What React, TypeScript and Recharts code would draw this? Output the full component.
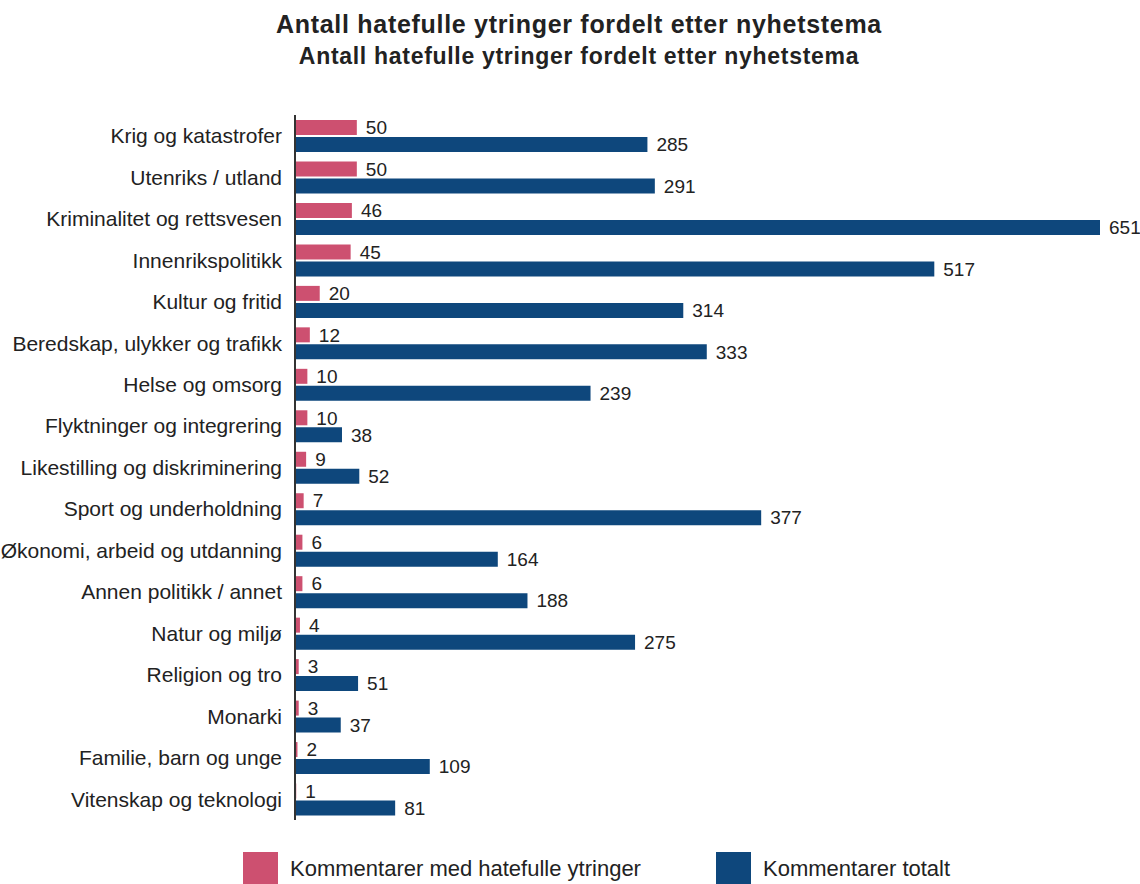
import { BarChart, Bar, XAxis, YAxis, LabelList } from "recharts";

const categories = [
    "Krig og katastrofer",
    "Utenriks / utland",
    "Kriminalitet og rettsvesen",
    "Innenrikspolitikk",
    "Kultur og fritid",
    "Beredskap, ulykker og trafikk",
    "Helse og omsorg",
    "Flyktninger og integrering",
    "Likestilling og diskriminering",
    "Sport og underholdning",
    "Økonomi, arbeid og utdanning",
    "Annen politikk / annet",
    "Natur og miljø",
    "Religion og tro",
    "Monarki",
    "Familie, barn og unge",
    "Vitenskap og teknologi",
];
const hateful = [50, 50, 46, 45, 20, 12, 10, 10, 9, 7, 6, 6, 4, 3, 3, 2, 1];
const total = [285, 291, 651, 517, 314, 333, 239, 38, 52, 377, 164, 188, 275, 51, 37, 109, 81];

const TITLE = "Antall hatefulle ytringer fordelt etter nyhetstema";
const RED = "#cd5070";
const BLUE = "#0e477c";
const FONT = "'Liberation Sans', Arial, sans-serif";

const data = categories.map((name, i) => ({ name, hateful: hateful[i], total: total[i] }));

function ChartLegend() {
    const items = [
        { label: "Kommentarer med hatefulle ytringer", color: RED, left: 243 },
        { label: "Kommentarer totalt", color: BLUE, left: 716 },
    ];
    return (
        <div style={{ position: "absolute", left: 0, top: 852, width: 1140, height: 32 }}>
            {items.map((item) => (
                <div key={item.label} style={{ position: "absolute", left: item.left, top: 0, display: "flex", alignItems: "center" }}>
                    <div style={{ width: 35, height: 34, background: item.color }} />
                    <span style={{ marginLeft: 12, fontSize: 22, color: "#222" }}>{item.label}</span>
                </div>
            ))}
        </div>
    );
}

export default function App() {
    return (
        <div style={{ position: "absolute", left: 0, top: 0, width: 1140, height: 884, background: "#fff", fontFamily: FONT, overflow: "hidden" }}>
            {/* two identical title lines, as in the source */}
            <div style={{ position: "absolute", top: 10, left: 9, width: 1140, textAlign: "center", fontSize: 25, letterSpacing: 0.7, fontWeight: "bold", color: "#222", lineHeight: "normal" }}>{TITLE}</div>
            <div style={{ position: "absolute", top: 43, left: 9, width: 1140, textAlign: "center", fontSize: 23, letterSpacing: 0.7, fontWeight: "bold", color: "#222", lineHeight: "normal" }}>{TITLE}</div>
            <BarChart
                width={1140}
                height={884}
                data={data}
                layout="vertical"
                margin={{ top: 115, right: 40, bottom: 64, left: 0 }}
                barSize={15}
                barGap={2}
            >
                <XAxis type="number" domain={[0, 651]} hide />
                <YAxis
                    type="category"
                    dataKey="name"
                    width={295}
                    tickLine={false}
                    axisLine={{ stroke: "#333", strokeWidth: 2 }}
                    tick={{ fill: "#222", fontSize: 21, fontFamily: FONT }}
                    tickMargin={7}
                    interval={0}
                />
                <Bar dataKey="hateful" name="Kommentarer med hatefulle ytringer" fill={RED} isAnimationActive={false}>
                    <LabelList dataKey="hateful" position="right" offset={9} fill="#222" fontSize={19} fontFamily={FONT} />
                </Bar>
                <Bar dataKey="total" name="Kommentarer totalt" fill={BLUE} isAnimationActive={false}>
                    <LabelList dataKey="total" position="right" offset={9} fill="#222" fontSize={19} fontFamily={FONT} />
                </Bar>
            </BarChart>
            <ChartLegend />
        </div>
    );
}
